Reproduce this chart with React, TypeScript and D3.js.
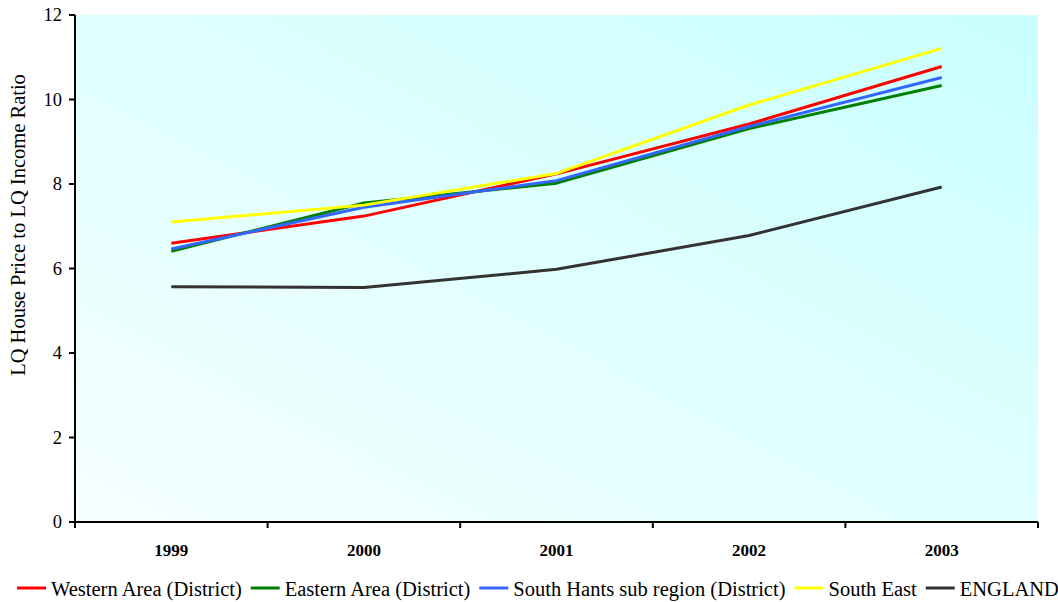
import React, { useEffect, useRef } from "react";
import * as d3 from "d3";

const years = ["1999", "2000", "2001", "2002", "2003"];
const westernArea = [6.6, 7.24, 8.24, 9.42, 10.78];
const easternArea = [6.41, 7.55, 8.02, 9.31, 10.33];
const southHants = [6.46, 7.45, 8.08, 9.36, 10.52];
const southEast = [7.1, 7.5, 8.25, 9.87, 11.21];
const england = [5.57, 5.55, 5.98, 6.78, 7.93];
const yTicks = [0, 2, 4, 6, 8, 10, 12];

const seriesList = [
  { name: "Western Area (District)", values: westernArea, color: "#ff0000" },
  { name: "Eastern Area (District)", values: easternArea, color: "#008000" },
  { name: "South Hants sub region (District)", values: southHants, color: "#3366ff" },
  { name: "South East", values: southEast, color: "#ffff00" },
  { name: "ENGLAND", values: england, color: "#333333" },
];

const W = 1058;
const H = 602;
const FONT = "'Liberation Serif', 'Times New Roman', serif";

export default function App() {
  const ref = useRef<SVGSVGElement>(null);

  useEffect(() => {
    const svg = d3.select(ref.current);
    svg.selectAll("*").remove();

    const left = 75, right = 1038, top = 15, bottom = 522;

    const x = d3.scaleBand<string>().domain(years).range([left, right]);
    const y = d3.scaleLinear().domain([0, 12]).range([bottom, top]);

    const defs = svg.append("defs");
    const grad = defs
      .append("linearGradient")
      .attr("id", "plotBg")
      .attr("x1", 0).attr("y1", 1).attr("x2", 1).attr("y2", 0);
    grad.append("stop").attr("offset", "0%").attr("stop-color", "#f6ffff");
    grad.append("stop").attr("offset", "100%").attr("stop-color", "#c9ffff");

    svg
      .append("rect")
      .attr("x", left).attr("y", top)
      .attr("width", right - left).attr("height", bottom - top)
      .attr("fill", "url(#plotBg)");

    // series lines
    const line = d3
      .line<number>()
      .x((_, i) => (x(years[i]) as number) + x.bandwidth() / 2)
      .y((d) => y(d));

    seriesList.forEach((s) => {
      svg
        .append("path")
        .attr("d", line(s.values) as string)
        .attr("fill", "none")
        .attr("stroke", s.color)
        .attr("stroke-width", 3)
        .attr("stroke-linejoin", "round");
    });

    // y axis
    const yAxis = svg.append("g");
    yAxis
      .append("line")
      .attr("x1", left).attr("x2", left)
      .attr("y1", top).attr("y2", bottom + 1)
      .attr("stroke", "#000").attr("stroke-width", 2);
    yTicks.forEach((t) => {
      yAxis
        .append("line")
        .attr("x1", left - 6).attr("x2", left)
        .attr("y1", y(t)).attr("y2", y(t))
        .attr("stroke", "#000").attr("stroke-width", 2);
      yAxis
        .append("text")
        .attr("x", left - 13)
        .attr("y", y(t))
        .attr("dy", "0.35em")
        .attr("text-anchor", "end")
        .attr("font-family", FONT)
        .attr("font-size", 18.5)
        .text(String(t));
    });

    // x axis
    const xAxis = svg.append("g");
    xAxis
      .append("line")
      .attr("x1", left - 6).attr("x2", right)
      .attr("y1", bottom).attr("y2", bottom)
      .attr("stroke", "#000").attr("stroke-width", 2);
    const boundaries = years.map((yr) => x(yr) as number).concat([right]);
    boundaries.forEach((b) => {
      xAxis
        .append("line")
        .attr("x1", b).attr("x2", b)
        .attr("y1", bottom).attr("y2", bottom + 6)
        .attr("stroke", "#000").attr("stroke-width", 2);
    });
    years.forEach((yr) => {
      xAxis
        .append("text")
        .attr("x", (x(yr) as number) + x.bandwidth() / 2)
        .attr("y", 556)
        .attr("text-anchor", "middle")
        .attr("font-family", FONT)
        .attr("font-size", 17)
        .attr("font-weight", "bold")
        .text(yr);
    });

    // y axis title
    svg
      .append("text")
      .attr("transform", `translate(25, 225) rotate(-90)`)
      .attr("text-anchor", "middle")
      .attr("font-family", FONT)
      .attr("font-size", 20.5)
      .text("LQ House Price to LQ Income Ratio");

    // legend
    const legend = svg.append("g");
    let cx = 17;
    const ly = 588;
    seriesList.forEach((s) => {
      legend
        .append("line")
        .attr("x1", cx).attr("x2", cx + 29)
        .attr("y1", ly).attr("y2", ly)
        .attr("stroke", s.color).attr("stroke-width", 3);
      const t = legend
        .append("text")
        .attr("x", cx + 34)
        .attr("y", 596)
        .attr("font-family", FONT)
        .attr("font-size", 20.5)
        .text(s.name);
      const w = (t.node() as SVGTextElement).getComputedTextLength();
      cx = cx + 34 + w + 9;
    });
  }, []);

  return (
    <svg
      ref={ref}
      width={W}
      height={H}
      style={{ position: "absolute", left: 0, top: 0, background: "#fff" }}
    />
  );
}
